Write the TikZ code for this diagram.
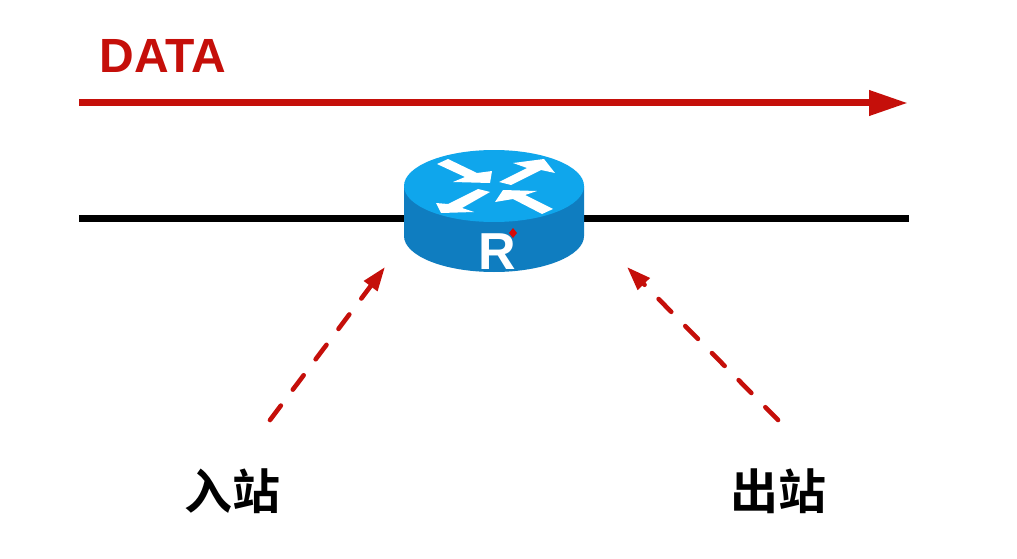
\documentclass[tikz,border=0pt]{standalone}
\usepackage{fontspec}
\setmainfont{Liberation Sans}
\newfontfamily\cjk{Noto Sans CJK SC}[BoldFont={Noto Sans CJK SC Bold}]
\usetikzlibrary{arrows.meta}
\definecolor{datared}{HTML}{C50F0A}
\definecolor{routertop}{HTML}{0FA6EC}
\definecolor{routerside}{HTML}{0F7DC0}

\begin{document}
\begin{tikzpicture}[
    x=1pt,y=-1pt,
    label/.style={font=\cjk\bfseries\fontsize{48}{48}\selectfont,black,inner sep=0pt},
    flow/.style={datared,line width=7pt,-{Triangle[length=39pt,width=24pt]}},
    station/.style={datared,line width=4.6pt,line cap=round,dash pattern=on 18pt off 20pt,-{Triangle[length=24pt,width=16pt]}},
    routerarrow/.style={white,fill=white,draw=none}
    ]
    \useasboundingbox (0, 0) rectangle (1017, 559);
    \fill[white] (0, 0) rectangle (1017, 559);
    \node[font=\bfseries\fontsize{48}{48}\selectfont,datared,inner sep=0pt] (data) at (163, 56) {DATA};
    \coordinate (flowstart) at (79, 103);
    \coordinate (flowend) at (908, 103);
    \coordinate (linestart) at (79, 218);
    \coordinate (lineend) at (909, 218);
    \coordinate (router) at (494, 186);
    \draw[flow] (flowstart) -- (flowend);
    \draw[black,line width=7pt] (linestart) -- (lineend);
    \fill[routerside] (404, 186) -- (404, 236) arc[start angle=180,end angle=0,x radius=90,y radius=36] -- (584, 186) -- cycle;
    \fill[routertop] (router) ellipse[x radius=90,y radius=36];
    \fill[routerarrow] (437, 164) -- (448, 159) -- (477, 173) -- (492, 171) -- (490, 183) -- (453, 182) -- (465, 177) -- cycle;
    \fill[routerarrow] (499, 182) -- (527, 168) -- (513, 163) -- (544, 159) -- (555, 173) -- (541, 170) -- (511, 185) -- cycle;
    \fill[routerarrow] (490, 192) -- (478, 189) -- (448, 204) -- (436, 203) -- (441, 213) -- (474, 212) -- (462, 208) -- cycle;
    \fill[routerarrow] (495, 202) -- (503, 190) -- (537, 191) -- (525, 195) -- (553, 209) -- (542, 214) -- (513, 199) -- cycle;
    \node[font=\bfseries\fontsize{52}{52}\selectfont,white,inner sep=0pt] (routerlabel) at (497, 252) {R};
    \fill[datared!70!red] (513, 228) -- (517, 233) -- (513, 238) -- (509, 233) -- cycle;
    \coordinate (instart) at (270, 420);
    \coordinate (inend) at (385, 267);
    \coordinate (outstart) at (778, 420);
    \coordinate (outend) at (627, 267);
    \draw[station] (instart) -- (inend);
    \draw[station] (outstart) -- (outend);
    \node[label] (instation) at (232, 491) {入站};
    \node[label] (outstation) at (778, 491) {出站};
  \end{tikzpicture}
\end{document}
